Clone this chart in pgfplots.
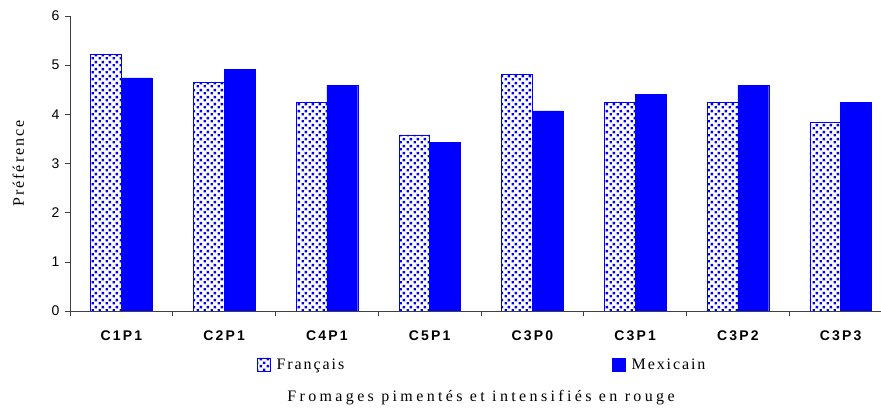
\documentclass[border=0pt]{standalone}
\usepackage{fontspec}
\setmainfont{Liberation Serif}
\setsansfont{Liberation Sans}
\newfontfamily\spacedserif[LetterSpace=12]{Liberation Serif}
\newfontfamily\widelabel[LetterSpace=21]{Liberation Serif}
\newfontfamily\spacedsans[LetterSpace=16]{Liberation Sans}
\usepackage{pgfplots}
\usepackage{pgfplotstable}
\pgfplotsset{compat=1.18}
\usetikzlibrary{patterns.meta}

% staggered square dots, as in the old spreadsheet fill
\pgfdeclarepattern{
  name=bluedots,
  type=uncolored,
  bottom left={\pgfpoint{0pt}{0pt}},
  top right={\pgfpoint{7pt}{7pt}},
  tile size={\pgfpoint{7pt}{7pt}},
  code={
    \pgfpathrectangle{\pgfpoint{0.6pt}{0.6pt}}{\pgfpoint{2.8pt}{2.8pt}}
    \pgfpathrectangle{\pgfpoint{4.1pt}{4.1pt}}{\pgfpoint{2.8pt}{2.8pt}}
    \pgfusepath{fill}
  }
}

\pgfplotsset{/pgfplots/ybar legend/.style={
  /pgfplots/legend image code/.code={\draw[##1] (0pt,-6pt) rectangle (13pt,7pt);}}}

\pgfplotstableread{
x F M
0 5.23 4.74
1 4.65 4.92
2 4.25 4.59
3 3.58 3.43
4 4.82 4.07
5 4.24 4.41
6 4.25 4.59
7 3.83 4.25
}\data

\begin{document}
\begin{tikzpicture}
\begin{axis}[
    scale only axis,
    width=822pt, height=295pt,
    xmin=-0.5, xmax=7.5,
    ymin=0, ymax=6,
    axis lines=left,
    axis line style={-, black!75},
    ybar, bar width=0.3,
    xtick={0,...,7},
    xticklabels={C1P1,C2P1,C4P1,C5P1,C3P0,C3P1,C3P2,C3P3},
    major x tick style={draw=none},
    minor xtick={-0.5,0.5,...,7.5},
    ytick={0,...,6},
    /pgf/number format/assume math mode=true,
    tick align=outside,
    major tick length=5pt, minor tick length=5pt,
    tick style={black!75, line width=0.6pt},
    xticklabel style={font=\fontsize{14}{16}\spacedsans\bfseries, yshift=-11pt},
    yticklabel style={font=\fontsize{14}{16}\sffamily, xshift=-2pt},
    xlabel={Fromages pimentés et intensifiés en rouge},
    xlabel style={font=\fontsize{16}{18}\widelabel, at={(axis description cs:0.5,-0.295)}, anchor=center},
    ylabel={Préférence},
    ylabel style={font=\fontsize{16}{18}\spacedserif, at={(axis description cs:-0.063,0.5)}, anchor=center},
    legend columns=2,
    legend style={at={(axis description cs:0.2275,-0.183)}, anchor=west,
      draw=none, fill=none, inner sep=0pt, font=\fontsize{16}{18}\spacedserif,
      /tikz/every odd column/.append style={column sep=4pt},
      /tikz/every even column/.append style={column sep=266pt}},
  ]
  \addplot[draw=blue, pattern=bluedots, pattern color=blue, bar shift=-0.15] table[x=x,y=F]{\data};
  \addplot[draw=blue, fill=blue, bar shift=0.15] table[x=x,y=M]{\data};
  \legend{Français, Mexicain}
  \coordinate (bl) at (rel axis cs:0,0);
  \coordinate (tr) at (rel axis cs:1,1);
\end{axis}
\pgfresetboundingbox
\path ([xshift=-70pt,yshift=-99pt]bl) rectangle ([xshift=-11pt,yshift=16pt]tr);
\end{tikzpicture}
\end{document}
